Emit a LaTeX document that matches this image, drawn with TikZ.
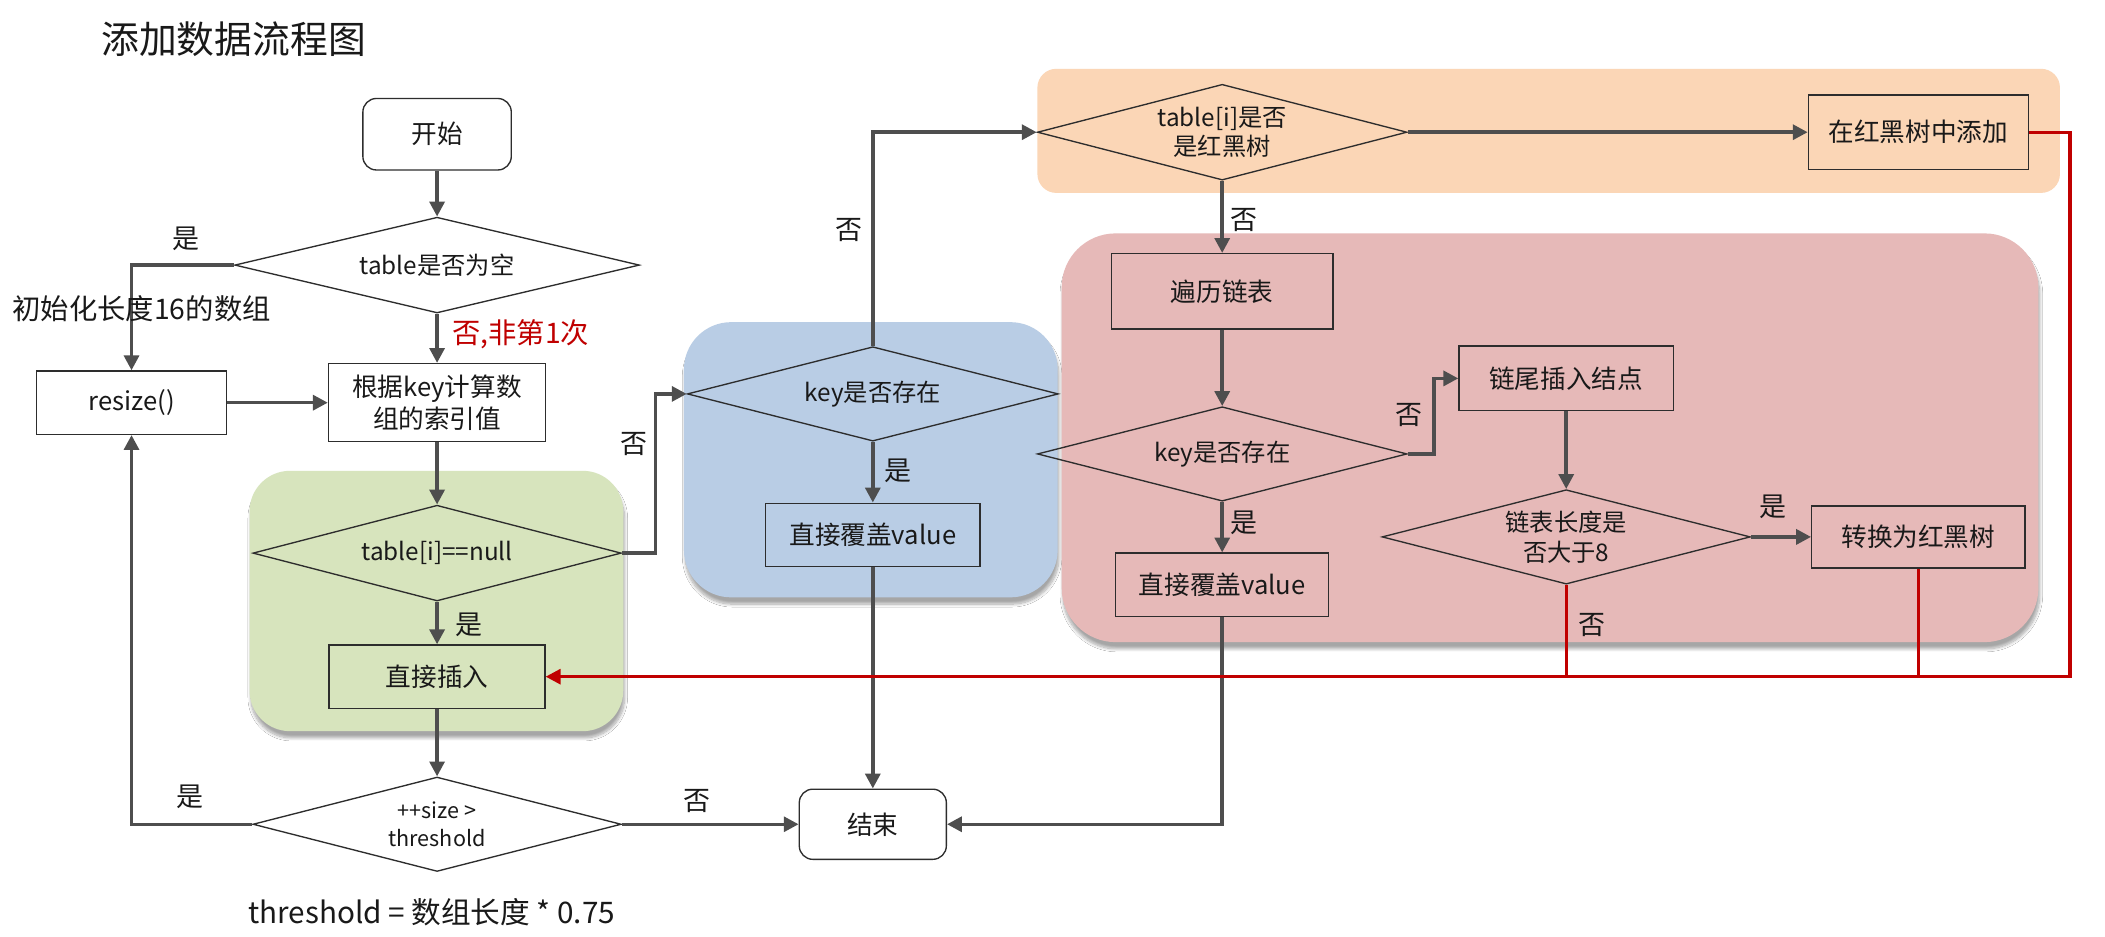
\documentclass[tikz,border=0pt]{standalone}
\usepackage{fontspec}
\setmainfont{Noto Sans CJK SC}
\usetikzlibrary{shapes.geometric,arrows.meta,shadows.blur}
\definecolor{ln}{RGB}{78,78,78}
\definecolor{bd}{RGB}{45,45,45}
\definecolor{rd}{RGB}{192,0,0}
\definecolor{txt}{RGB}{25,25,25}
\definecolor{gorange}{HTML}{FBD6B6}
\definecolor{gpink}{HTML}{E6B9B8}
\definecolor{gblue}{HTML}{B9CDE5}
\definecolor{ggreen}{HTML}{D7E4BD}
\begin{document}
\begin{tikzpicture}[x=1pt,y=-1pt,
  every node/.style={text=txt},
  box/.style={draw=bd, line width=1pt, rectangle, inner sep=0pt, align=center, font=\fontsize{19}{23}\selectfont},
  rbox/.style={box, rounded corners=10pt},
  dia/.style={draw=bd, line width=1pt, diamond, aspect=3.9, inner sep=0pt, align=center, font=\fontsize{18}{22}\selectfont},
  flow/.style={draw=ln, line width=2.6pt, -{Triangle[length=11pt,width=11pt]}},
  redflow/.style={draw=rd, line width=2.4pt, -{Triangle[length=11pt,width=11pt]}},
  redline/.style={draw=rd, line width=2.4pt},
  lbl/.style={font=\fontsize{20}{24}\selectfont, inner sep=0pt},
  grp/.style={rectangle, inner sep=0pt, draw=none},
  shd/.style={blur shadow={shadow xshift=1pt, shadow yshift=-5pt, shadow opacity=35, shadow blur steps=10}},
]
\useasboundingbox (0,0) rectangle (1560.4,693.9);
\fill[white] (0,0) rectangle (1560.4,693.9);

% groups
\node[grp, fill=gorange, rounded corners=14pt, minimum width=758pt, minimum height=92pt] (gorangebox) at (1148,97) {};
\node[grp, fill=gblue, shd, rounded corners=35pt, minimum width=277pt, minimum height=204pt] (gbluebox) at (645.5,340.8) {};
\node[grp, fill=gpink, shd, rounded corners=40pt, minimum width=724pt, minimum height=303pt] (gpinkbox) at (1149,324.5) {};
\node[grp, fill=ggreen, shd, rounded corners=30pt, minimum width=277pt, minimum height=193pt] (ggreenbox) at (323.5,445.5) {};

% title
\node[anchor=west, inner sep=0pt, font=\fontsize{28}{32}\selectfont] (title) at (75,29) {添加数据流程图};

% nodes
\node[rbox, fill=white, minimum width=110pt, minimum height=53pt] (start) at (324,99.5) {开始};
\node[dia, fill=white, minimum width=300pt, minimum height=71pt] (d1) at (324,196.5) {table是否为空};
\node[box, fill=white, minimum width=141pt, minimum height=47pt] (resize) at (97.5,298.5) {resize()};
\node[box, fill=white, minimum width=161pt, minimum height=58pt] (hash) at (324,298.5) {根据key计算数\\组的索引值};
\node[dia, minimum width=273pt, minimum height=71pt] (d2) at (324,410) {table[i]==null};
\node[box, minimum width=160pt, minimum height=47pt] (insert) at (324,501.6) {直接插入};
\node[dia, fill=white, minimum width=273pt, minimum height=70pt, font=\fontsize{16}{21}\selectfont] (d3) at (324,611) {++size >\\threshold};
\node[rbox, fill=white, minimum width=109pt, minimum height=52pt] (end) at (647,611) {结束};
\node[inner sep=0pt, font=\fontsize{22}{26}\selectfont] (formula) at (320,676) {threshold = 数组长度 * 0.75};

\node[dia, minimum width=275pt, minimum height=70pt] (dk1) at (647,292) {key是否存在};
\node[box, minimum width=159pt, minimum height=47pt] (cover1) at (647,396.5) {直接覆盖value};

\node[dia, minimum width=274pt, minimum height=71pt] (dtree) at (906,98) {table[i]是否\\是红黑树};
\node[box, minimum width=163pt, minimum height=55pt] (rbadd) at (1422,98) {在红黑树中添加};
\node[box, minimum width=164pt, minimum height=56pt] (traverse) at (906,216) {遍历链表};
\node[dia, minimum width=274pt, minimum height=70pt] (dk2) at (906,336.5) {key是否存在};
\node[box, minimum width=158pt, minimum height=47pt] (cover2) at (906,433.5) {直接覆盖value};
\node[box, minimum width=159pt, minimum height=48pt] (tail) at (1161,280.5) {链尾插入结点};
\node[dia, minimum width=273pt, minimum height=70pt] (dlen) at (1161,398) {链表长度是\\否大于8};
\node[box, minimum width=158pt, minimum height=46pt] (convert) at (1422,398) {转换为红黑树};

% helper coordinates
\coordinate (j1) at (486,410);
\coordinate (j2) at (1063,336.5);
\coordinate (r1) at (1534.5,98);
\coordinate (r2) at (1534.5,501.6);

% connectors
\draw[flow] (start.south) -- (d1.north);
\draw[flow] (d1.west) -| (resize.north);
\draw[flow] (d1.south) -- (hash.north);
\draw[flow] (resize.east) -- (resize.east -| hash.west);
\draw[flow] (hash.south) -- (d2.north);
\draw[flow] (d2.south) -- (insert.north);
\draw[flow] (d2.east) -- (j1) |- (dk1.west);
\draw[flow] (insert.south) -- (d3.north);
\draw[flow] (d3.west) -| (resize.south);
\draw[flow] (d3.east) -- (end.west);
\draw[flow] (dk1.north) |- (dtree.west);
\draw[flow] (dk1.south) -- (cover1.north);
\draw[flow] (cover1.south) -- (end.north);
\draw[flow] (dtree.east) -- (rbadd.west);
\draw[flow] (dtree.south) -- (traverse.north);
\draw[flow] (traverse.south) -- (dk2.north);
\draw[flow] (dk2.south) -- (cover2.north);
\draw[flow] (cover2.south) |- (end.east);
\draw[flow] (dk2.east) -- (j2) |- (tail.west);
\draw[flow] (tail.south) -- (dlen.north);
\draw[flow] (dlen.east) -- (convert.west);

% red connectors
\draw[redline] (dlen.south) -- (dlen.south |- r2);
\draw[redline] (convert.south) -- (convert.south |- r2);
\draw[redflow] (rbadd.east) -- (r1) -- (r2) -- (insert.east);

% labels
\node[lbl] (l1) at (138,177) {是};
\node[lbl, font=\fontsize{21}{25}\selectfont] (l2) at (105,229) {初始化长度16的数组};
\node[lbl, font=\fontsize{21}{25}\selectfont, text=rd] (l3) at (386,248) {否,非第1次};
\node[lbl] (l4) at (470,329) {否};
\node[lbl] (l5) at (348,463) {是};
\node[lbl] (l6) at (140.6,591) {是};
\node[lbl] (l7) at (517,594) {否};
\node[lbl] (l8) at (629,170.5) {否};
\node[lbl] (l9) at (666,349) {是};
\node[lbl] (l10) at (922,163) {否};
\node[lbl] (l11) at (922,387.5) {是};
\node[lbl] (l12) at (1044.5,307.6) {否};
\node[lbl] (l13) at (1314,376) {是};
\node[lbl] (l14) at (1180,463.5) {否};
\end{tikzpicture}
\end{document}
